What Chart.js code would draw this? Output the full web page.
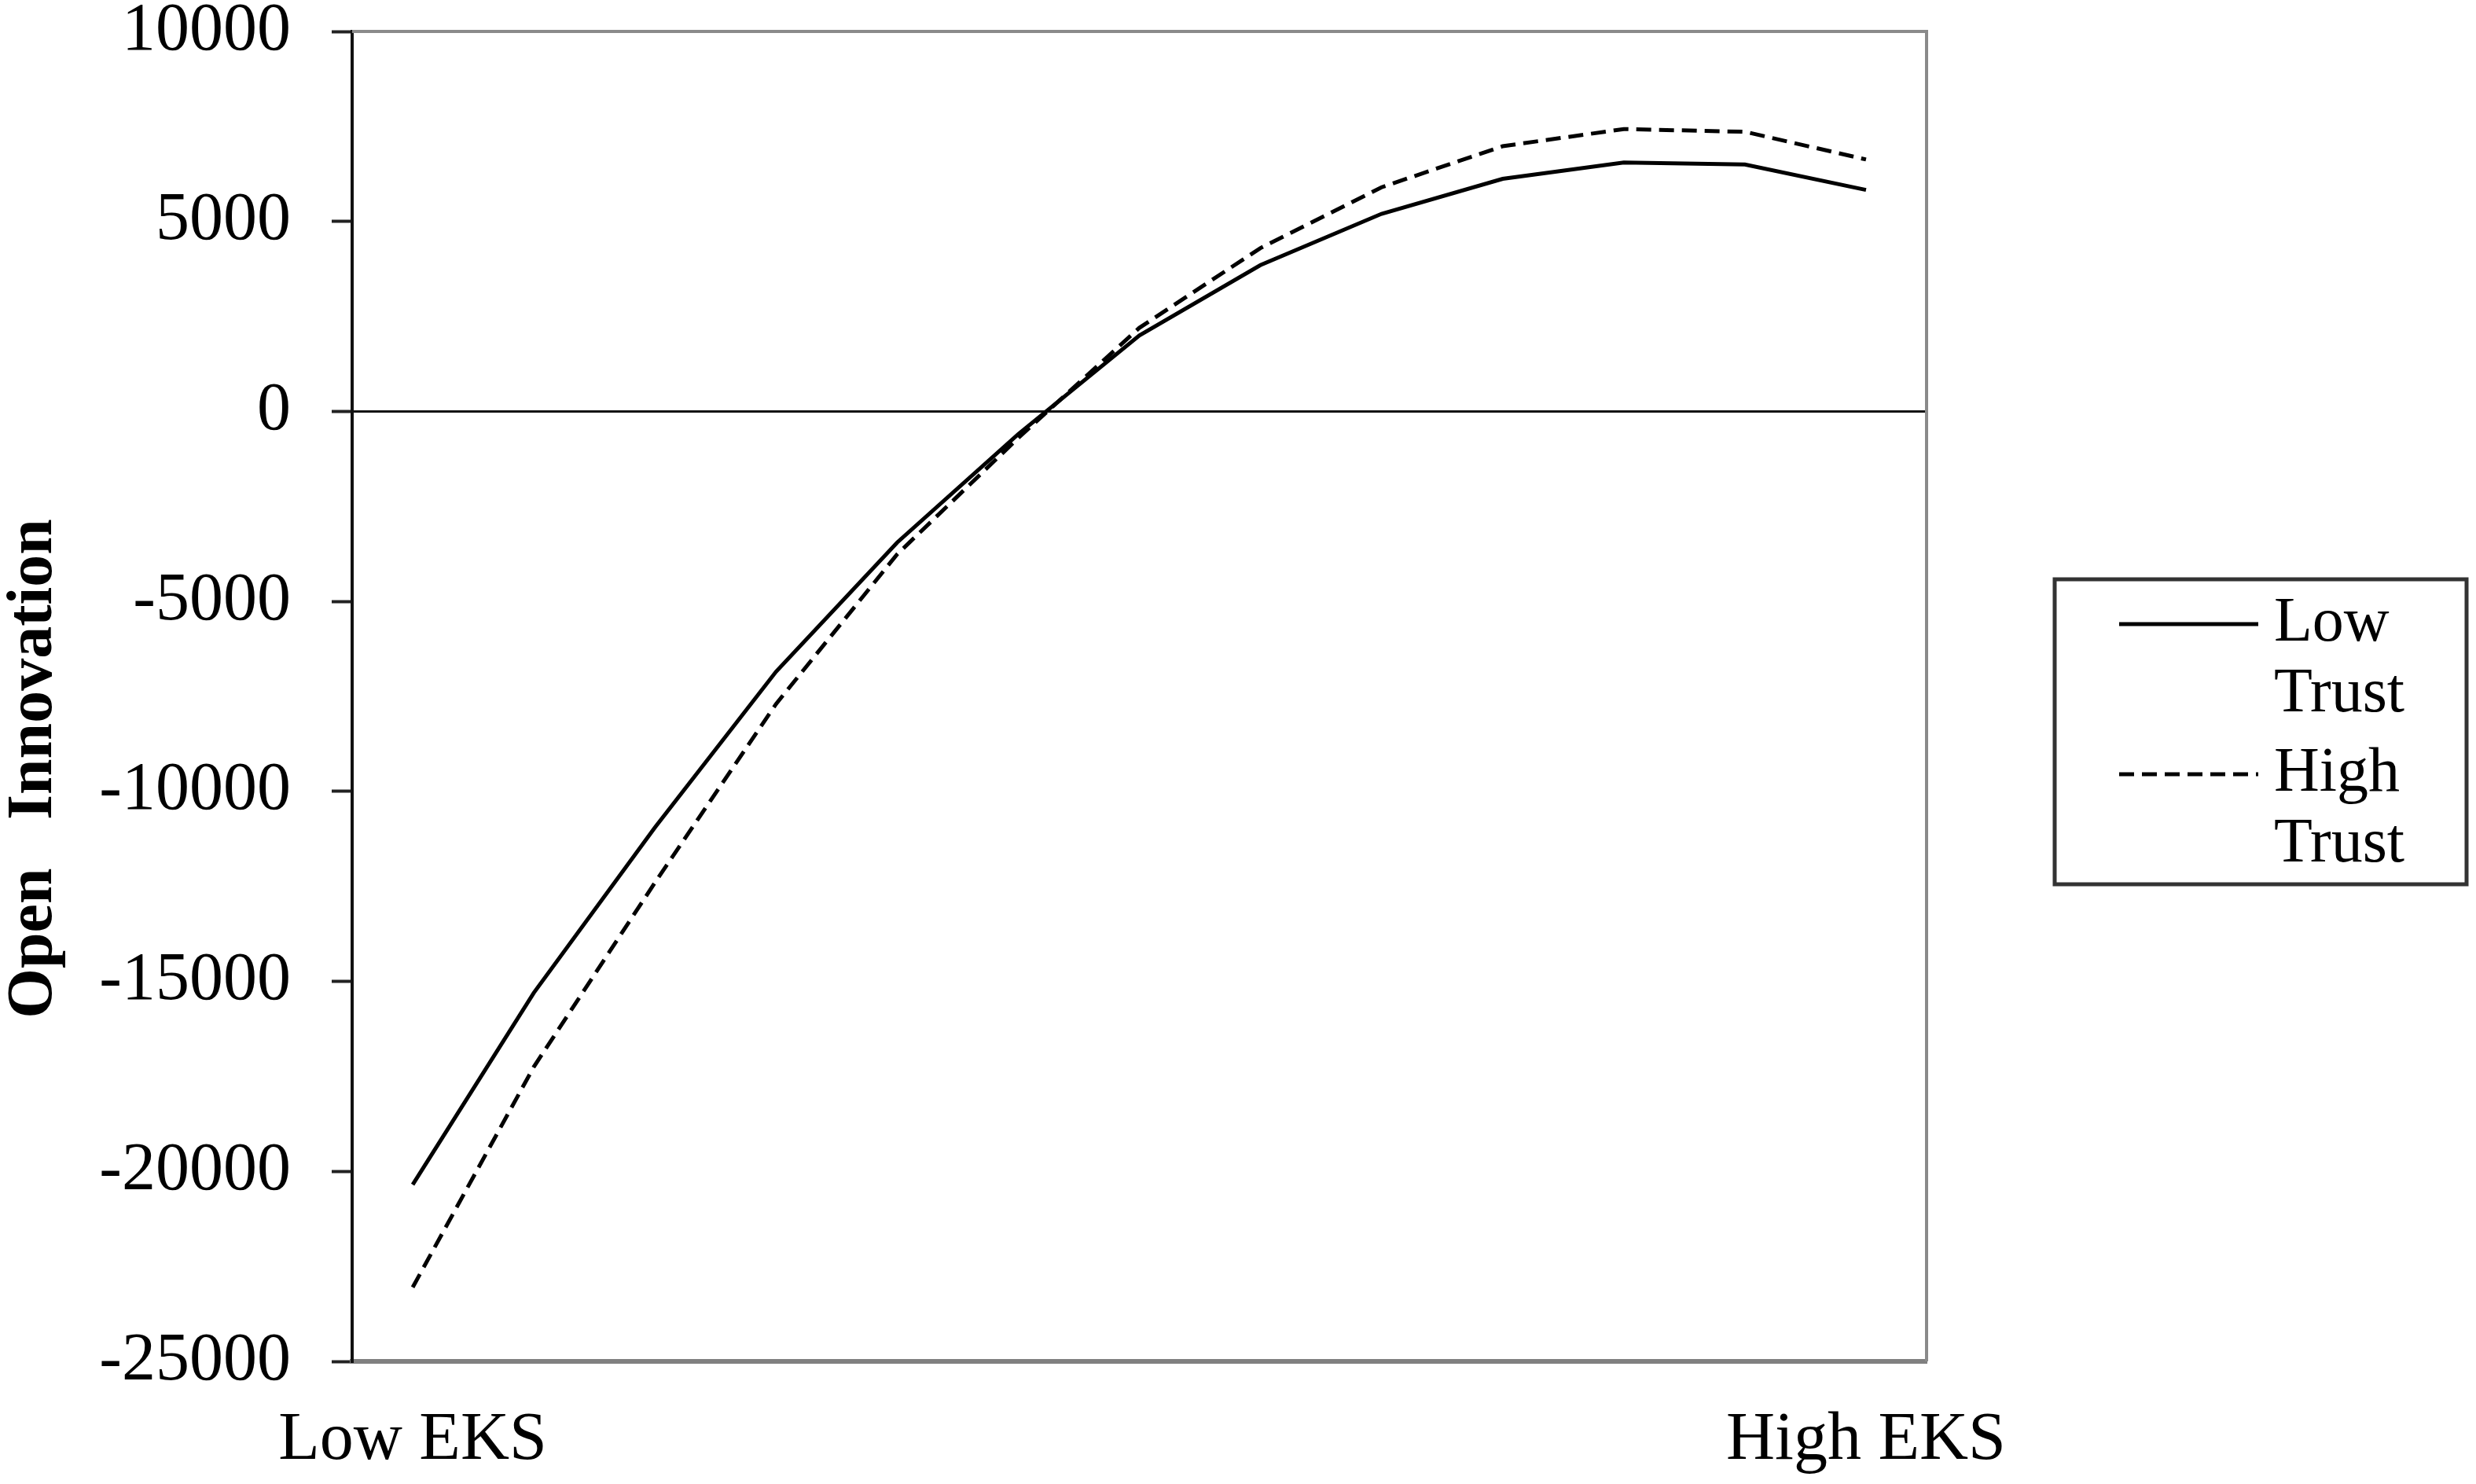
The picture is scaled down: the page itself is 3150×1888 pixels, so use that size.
<!DOCTYPE html>
<html>
<head>
<meta charset="utf-8">
<title>Open Innovation by EKS and Trust</title>
<script src="https://cdn.jsdelivr.net/npm/chart.js@4.4.1/dist/chart.umd.min.js"></script>
<style>
    html, body { margin: 0; padding: 0; background: #fff; }
    #wrap { width: 3150px; height: 1888px; }
</style>
</head>
<body>
<div id="wrap"><canvas id="eksChart" width="3150" height="1888"></canvas></div>
<script>
// 13 steps from low to high EKS, only the two ends carry a label
const categories = ['Low EKS', '', '', '', '', '', '', '', '', '', '', '', 'High EKS'];

// Open innovation values
const lowTrust  = [-20350, -15300, -10950, -6850, -3450, -600, 2000, 3850, 5200, 6120, 6550, 6500, 5830];
const highTrust = [-23050, -17250, -12400, -7700, -3760, -700, 2200, 4300, 5900, 6980, 7430, 7360, 6630];

const seriesNames = ['Low Trust', 'High Trust'];
const yTicks = [-25000, -20000, -15000, -10000, -5000, 0, 5000, 10000];
const yTitle = 'Open   Innovation';

const SERIF = "'Liberation Serif', 'Times New Roman', serif";

// Grey frame on the top and right of the plot area
const frameBorder = {
    id: 'frameBorder',
    beforeDatasetsDraw(chart) {
        const { ctx, chartArea: a } = chart;
        ctx.save();
        ctx.strokeStyle = '#8a8a8a';
        ctx.lineWidth = 4;
        ctx.beginPath();
        ctx.moveTo(a.left, a.top);
        ctx.lineTo(a.right, a.top);
        ctx.lineTo(a.right, a.bottom);
        ctx.stroke();
        ctx.restore();
    }
};

// Rotated axis title, sitting a bit below the middle like the original
const yAxisTitle = {
    id: 'yAxisTitle',
    afterDraw(chart) {
        const ctx = chart.ctx;
        ctx.save();
        ctx.translate(44, 978);
        ctx.rotate(-Math.PI / 2);
        ctx.font = 'bold 82px ' + SERIF;
        ctx.fillStyle = '#000';
        ctx.textAlign = 'center';
        ctx.textBaseline = 'middle';
        ctx.fillText(yTitle, 0, 0);
        ctx.restore();
    }
};

// Boxed legend with two-line labels
const boxedLegend = {
    id: 'boxedLegend',
    afterDraw(chart) {
        const ctx = chart.ctx;
        const box = { x: 2614, y: 737, w: 524, h: 388 };
        ctx.save();
        ctx.strokeStyle = '#333';
        ctx.lineWidth = 5;
        ctx.strokeRect(box.x, box.y, box.w, box.h);

        ctx.font = '80px ' + SERIF;
        ctx.fillStyle = '#000';
        ctx.textAlign = 'left';
        ctx.textBaseline = 'middle';

        chart.data.datasets.forEach((ds, i) => {
            const rowY = 794 + i * 191;
            ctx.beginPath();
            ctx.lineWidth = ds.borderWidth;
            ctx.strokeStyle = ds.borderColor;
            ctx.setLineDash(ds.borderDash || []);
            ctx.moveTo(2696, rowY);
            ctx.lineTo(2873, rowY);
            ctx.stroke();
            ctx.setLineDash([]);

            ds.label.split(' ').forEach((word, j) => {
                ctx.fillText(word, 2893, rowY + j * 90);
            });
        });
        ctx.restore();
    }
};

function createChart() {
    const ctx = document.getElementById('eksChart').getContext('2d');

    new Chart(ctx, {
        type: 'line',
        data: {
            labels: categories,
            datasets: [
                {
                    label: seriesNames[0],
                    data: lowTrust,
                    borderColor: '#000',
                    borderWidth: 5,
                    pointRadius: 0,
                    tension: 0,
                    fill: false
                },
                {
                    label: seriesNames[1],
                    data: highTrust,
                    borderColor: '#000',
                    borderWidth: 5,
                    borderDash: [19, 10],
                    pointRadius: 0,
                    tension: 0,
                    fill: false
                }
            ]
        },
        options: {
            responsive: false,
            animation: false,
            devicePixelRatio: 1,
            layout: {
                padding: { top: 40, right: 699, bottom: 0, left: 0 }
            },
            scales: {
                x: {
                    type: 'category',
                    offset: true,
                    grid: { display: false, drawTicks: false },
                    border: { display: true, color: '#808080', width: 6 },
                    ticks: {
                        autoSkip: false,
                        maxRotation: 0,
                        minRotation: 0,
                        padding: 58,
                        color: '#000',
                        font: { family: SERIF, size: 86, lineHeight: 1 }
                    },
                    afterFit(scale) {
                        scale.height = 156;
                        scale.paddingLeft = 0;
                        scale.paddingRight = 0;
                    }
                },
                y: {
                    min: yTicks[0],
                    max: yTicks[yTicks.length - 1],
                    afterBuildTicks(scale) {
                        scale.ticks = yTicks.map(v => ({ value: v }));
                    },
                    grid: {
                        drawTicks: true,
                        tickLength: 26,
                        tickWidth: 4,
                        tickColor: '#222',
                        lineWidth: 3,
                        color: function(c) {
                            return c.tick && c.tick.value === 0 ? '#111' : 'rgba(0,0,0,0)';
                        }
                    },
                    border: { display: true, color: '#111', width: 4 },
                    ticks: {
                        padding: 52,
                        color: '#000',
                        font: { family: SERIF, size: 86, lineHeight: 1 },
                        callback: function(value) {
                            return String(value);
                        }
                    },
                    afterFit(scale) {
                        scale.width = 448;
                        scale.paddingTop = 0;
                        scale.paddingBottom = 0;
                    }
                }
            },
            plugins: {
                legend: { display: false },
                tooltip: { enabled: false },
                title: { display: false }
            }
        },
        plugins: [frameBorder, yAxisTitle, boxedLegend]
    });
}

document.addEventListener('DOMContentLoaded', function() {
    createChart();
});
</script>
</body>
</html>
